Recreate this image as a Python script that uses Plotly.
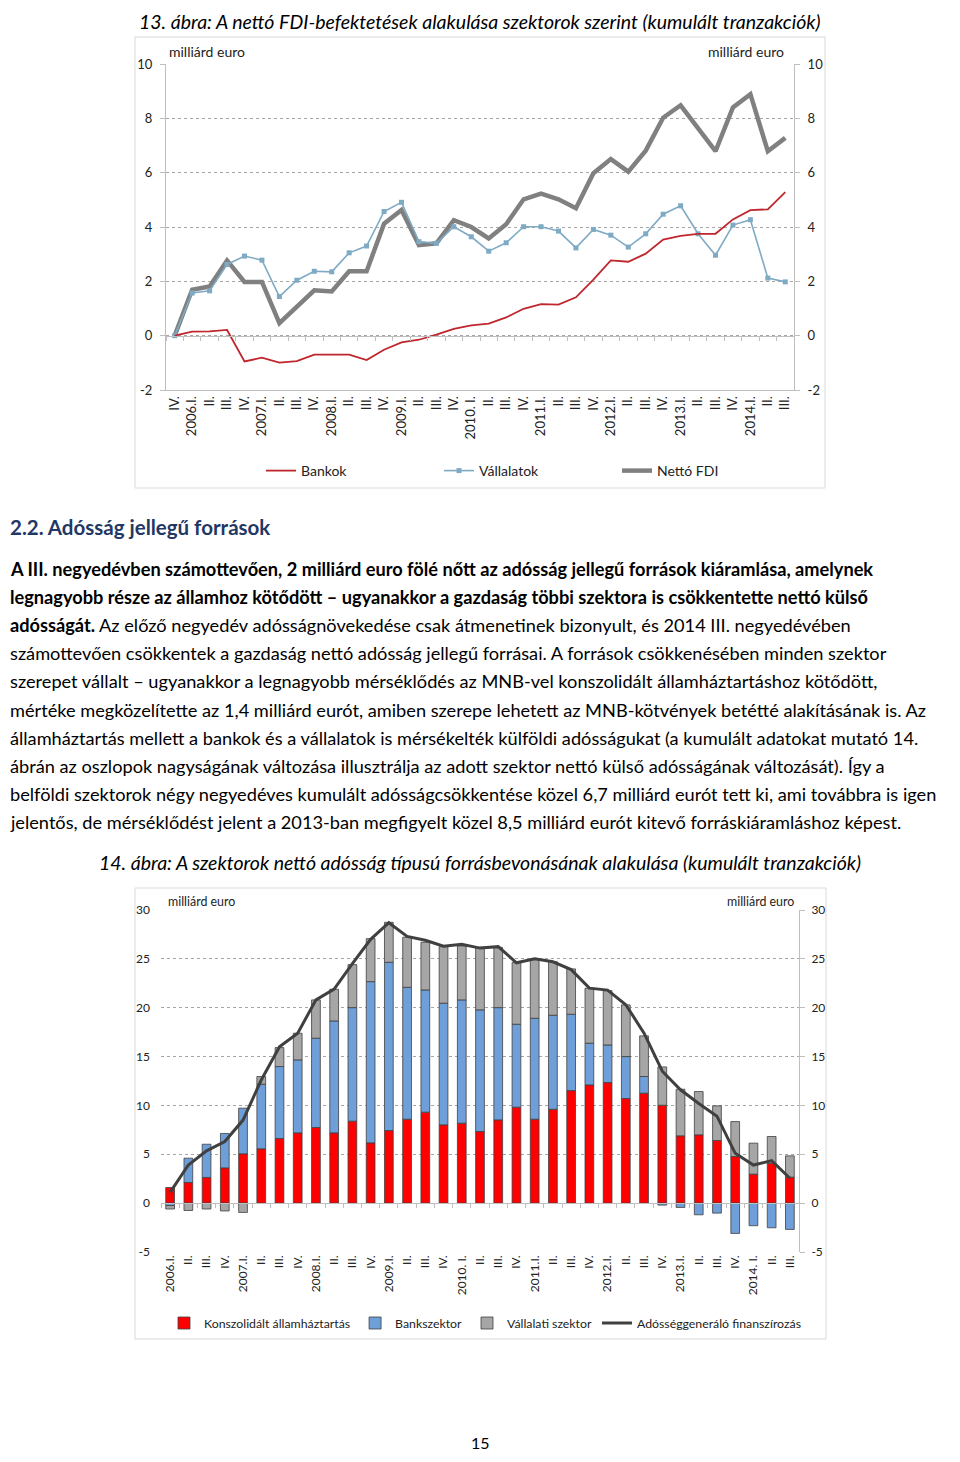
import plotly.graph_objects as go

# The page body has an 8px margin; the figure is sized so the page fits the 960x1462 window.
PAGE_W, PAGE_H = 960, 1462
OFF = 8
W, H = PAGE_W - 2 * OFF, PAGE_H - 2 * OFF

# ---------------- Figure 13 data ----------------
fdi_labels = ["IV.", "2006.I.", "II.", "III.", "IV.", "2007.I.", "II.", "III.", "IV.",
              "2008.I.", "II.", "III.", "IV.", "2009.I.", "II.", "III.", "IV.",
              "2010. I.", "II.", "III.", "IV.", "2011.I.", "II.", "III.", "IV.",
              "2012.I.", "II.", "III.", "IV.", "2013.I.", "II.", "III.", "IV.",
              "2014.I.", "II.", "III."]
bankok = [0, 0.15, 0.16, 0.21, -0.95, -0.81, -0.99, -0.94, -0.70, -0.70, -0.70, -0.90,
          -0.52, -0.25, -0.15, 0.04, 0.25, 0.38, 0.44, 0.67, 0.99, 1.16, 1.14, 1.41,
          2.06, 2.77, 2.72, 3.02, 3.54, 3.67, 3.75, 3.75, 4.28, 4.62, 4.65, 5.28]
vallalatok = [0, 1.57, 1.65, 2.62, 2.93, 2.78, 1.44, 2.04, 2.37, 2.35, 3.05, 3.30,
              4.57, 4.91, 3.46, 3.40, 4.01, 3.64, 3.11, 3.42, 4.01, 4.01, 3.85, 3.23,
              3.91, 3.70, 3.26, 3.75, 4.47, 4.78, 3.75, 2.96, 4.07, 4.27, 2.12, 1.98]
netto_fdi = [0, 1.69, 1.81, 2.77, 1.98, 1.98, 0.46, 1.07, 1.67, 1.63, 2.37, 2.37,
             4.12, 4.63, 3.33, 3.40, 4.25, 4.00, 3.58, 4.10, 5.02, 5.23, 5.02, 4.69,
             5.98, 6.50, 6.04, 6.81, 8.02, 8.48, 7.62, 6.79, 8.40, 8.89, 6.79, 7.28]
fdi_yticks = [-2, 0, 2, 4, 6, 8, 10]

# ---------------- Figure 14 data ----------------
debt_labels = ["2006.I.", "II.", "III.", "IV.", "2007.I.", "II.", "III.", "IV.",
               "2008.I.", "II.", "III.", "IV.", "2009.I.", "II.", "III.", "IV.",
               "2010. I.", "II.", "III.", "IV.", "2011.I.", "II.", "III.", "IV.",
               "2012.I.", "II.", "III.", "IV.", "2013.I.", "II.", "III.", "IV.",
               "2014. I.", "II.", "III."]
allamhaztartas = [1.60, 2.11, 2.63, 3.61, 5.05, 5.56, 6.61, 7.19, 7.74, 7.19, 8.39, 6.17,
                  7.43, 8.59, 9.31, 8.01, 8.18, 7.33, 8.52, 9.82, 8.59, 9.61, 11.52, 12.10,
                  12.34, 10.71, 11.25, 10.02, 6.89, 6.99, 6.41, 4.77, 2.97, 4.09, 2.66]
bankszektor = [-0.25, 2.49, 3.40, 3.52, 4.67, 6.61, 7.37, 7.47, 9.14, 11.46, 11.62, 16.50,
               17.22, 13.50, 12.51, 12.45, 12.62, 12.45, 11.49, 8.49, 10.33, 9.62, 7.81, 4.27,
               3.85, 4.29, 1.71, -0.20, -0.44, -1.19, -1.02, -3.10, -2.31, -2.52, -2.69]
vallalati = [-0.35, -0.75, -0.60, -0.80, -0.95, 0.79, 1.94, 2.73, 3.92, 3.24, 4.40, 4.40,
             4.09, 5.12, 4.88, 5.79, 5.52, 6.40, 6.17, 6.31, 6.04, 5.48, 4.64, 5.62,
             5.56, 5.29, 4.16, 3.92, 4.77, 4.43, 3.55, 3.58, 3.17, 2.73, 2.18]
adossag_gen = [1.1, 3.9, 5.35, 6.3, 8.5, 12.6, 16.0, 17.4, 20.8, 21.9, 24.5, 27.0,
               28.7, 27.3, 26.9, 26.3, 26.5, 26.1, 26.25, 24.6, 25.0, 24.7, 23.9, 22.0,
               21.8, 20.3, 17.4, 13.5, 11.6, 10.2, 8.9, 5.1, 3.9, 4.35, 2.55]
debt_yticks = [-5, 0, 5, 10, 15, 20, 25, 30]

FONT = "Lato"
AX = "#BFBFBF"
GRID = "#A6A6A6"


def px_x(p):
    """page pixel x -> paper fraction"""
    return (p - OFF) / W


def px_y(p):
    """page pixel y -> paper fraction"""
    return 1 - (p - OFF) / H


def zero_pos(rng, dom):
    return dom[0] + (0 - rng[0]) / (rng[1] - rng[0]) * (dom[1] - dom[0])


fig = go.Figure()

# ---- Figure 13 traces (split over overlaid axes so the right axis and zero-line ticks render)
x13 = list(range(len(fdi_labels)))
fig.add_trace(go.Scatter(x=x13, y=bankok, name="Bankok", mode="lines",
                         line=dict(color="#C0262D", width=1.8),
                         xaxis="x3", yaxis="y", legend="legend"))
fig.add_trace(go.Scatter(x=x13, y=vallalatok, name="Vállalatok", mode="lines+markers",
                         line=dict(color="#7EAAC4", width=1.6),
                         marker=dict(symbol="square", size=5, color="#7EAAC4"),
                         xaxis="x", yaxis="y2", legend="legend"))
fig.add_trace(go.Scatter(x=x13, y=netto_fdi, name="Nettó FDI", mode="lines",
                         line=dict(color="#808080", width=4.5),
                         xaxis="x", yaxis="y", legend="legend"))

# ---- Figure 14 traces
x14 = list(range(len(debt_labels)))
bar_line = dict(color="#404040", width=0.8)
fig.add_trace(go.Bar(x=x14, y=allamhaztartas, name="Konszolidált államháztartás",
                     marker=dict(color="#FF0000", line=bar_line),
                     xaxis="x2", yaxis="y3", legend="legend2"))
fig.add_trace(go.Bar(x=x14, y=bankszektor, name="Bankszektor",
                     marker=dict(color="#6F9FD8", line=bar_line),
                     xaxis="x2", yaxis="y3", legend="legend2"))
fig.add_trace(go.Bar(x=x14, y=vallalati, name="Vállalati szektor",
                     marker=dict(color="#A6A6A6", line=bar_line),
                     xaxis="x2", yaxis="y3", legend="legend2"))
fig.add_trace(go.Scatter(x=x14, y=adossag_gen, name="Adósséggeneráló finanszírozás",
                         mode="lines", line=dict(color="#404040", width=3),
                         xaxis="x4", yaxis="y4", legend="legend2"))

# ---- axes geometry (reference page pixels)
dom_x13 = [px_x(166), px_x(794)]
dom_y13 = [px_y(390), px_y(64)]
rng_y13 = [-2, 10]
rng_x13 = [-0.5, len(fdi_labels) - 0.5]

dom_x14 = [px_x(161), px_x(799)]
dom_y14 = [px_y(1252), px_y(910)]
rng_y14 = [-5, 30]
rng_x14 = [-0.5, len(debt_labels) - 0.5]

tickfont13 = dict(family=FONT, size=13, color="#222")
tickfont14 = dict(family=FONT, size=12, color="#222")
y13_ticks = dict(tickmode="array", tickvals=fdi_yticks, ticktext=[str(v) for v in fdi_yticks])
y14_ticks = dict(tickmode="array", tickvals=debt_yticks, ticktext=[str(v) for v in debt_yticks])

fig.update_layout(
    width=W, height=H, margin=dict(l=0, r=0, t=0, b=0, autoexpand=False),
    paper_bgcolor="white", plot_bgcolor="white",
    barmode="relative", bargap=0.52,
    font=dict(family=FONT, color="#000"),
    xaxis=dict(domain=dom_x13, anchor="y", range=rng_x13, tickmode="array",
               tickvals=x13, ticktext=fdi_labels, tickangle=-90, tickfont=tickfont13,
               showgrid=False, zeroline=False, showline=True, linecolor=AX, ticks="",
               automargin=False),
    xaxis3=dict(overlaying="x", anchor="free", position=zero_pos(rng_y13, dom_y13),
                range=rng_x13, tickmode="array",
                tickvals=[i - 0.5 for i in range(len(fdi_labels) + 1)],
                showticklabels=False, ticks="outside", ticklen=4, tickcolor=AX,
                showgrid=False, zeroline=False, showline=True, linecolor=AX,
                automargin=False),
    yaxis=dict(domain=dom_y13, anchor="x", range=rng_y13, **y13_ticks,
               showgrid=True, gridcolor=GRID, griddash="dot", zeroline=False,
               showline=True, linecolor=AX, ticks="outside", ticklen=5, tickcolor=AX,
               ticklabelstandoff=5, tickfont=tickfont13, automargin=False),
    yaxis2=dict(overlaying="y", anchor="x", side="right", range=rng_y13, **y13_ticks,
                showgrid=False, zeroline=False, showline=True, linecolor=AX,
                ticks="outside", ticklen=5, tickcolor=AX, ticklabelstandoff=5,
                tickfont=tickfont13, automargin=False),
    xaxis2=dict(domain=dom_x14, anchor="y3", range=rng_x14, tickmode="array",
                tickvals=x14, ticktext=debt_labels, tickangle=-90, tickfont=tickfont14,
                showgrid=False, zeroline=False, showline=False, ticks="",
                automargin=False),
    xaxis4=dict(overlaying="x2", anchor="free", position=zero_pos(rng_y14, dom_y14),
                range=rng_x14, tickmode="array",
                tickvals=[i - 0.5 for i in range(len(debt_labels) + 1)],
                showticklabels=False, ticks="outside", ticklen=4, tickcolor=AX,
                showgrid=False, zeroline=False, showline=True, linecolor=AX,
                automargin=False),
    yaxis3=dict(domain=dom_y14, anchor="x2", range=rng_y14, **y14_ticks,
                showgrid=True, gridcolor=GRID, griddash="dot", zeroline=False,
                showline=False, ticks="", ticklabelstandoff=10, tickfont=tickfont14,
                automargin=False),
    yaxis4=dict(overlaying="y3", anchor="x2", side="right", range=rng_y14, **y14_ticks,
                showgrid=False, zeroline=False, showline=True, linecolor=AX,
                ticks="outside", ticklen=5, tickcolor=AX, ticklabelstandoff=4,
                tickfont=tickfont14, automargin=False),
    legend=dict(orientation="h", x=px_x(261), y=px_y(471), xanchor="left", yanchor="middle",
                font=dict(family=FONT, size=14, color="#222"), entrywidth=133,
                bgcolor="rgba(0,0,0,0)", traceorder="normal"),
    legend2=dict(orientation="h", x=px_x(164), y=px_y(1323), xanchor="left", yanchor="middle",
                 font=dict(family=FONT, size=12.3, color="#222"),
                 bgcolor="rgba(0,0,0,0)", traceorder="normal"),
)

# ---- chart frames
fig.add_shape(type="rect", xref="paper", yref="paper", x0=px_x(135), x1=px_x(825),
              y0=px_y(488), y1=px_y(37), line=dict(color="#D9D9D9", width=1), layer="below")
fig.add_shape(type="rect", xref="paper", yref="paper", x0=px_x(135), x1=px_x(826),
              y0=px_y(1339), y1=px_y(888), line=dict(color="#D9D9D9", width=1), layer="below")


def ann(text, x, y, size, xanchor="left", color="#000", yanchor="middle"):
    fig.add_annotation(text=text, x=px_x(x), y=px_y(y), xref="paper", yref="paper",
                       xanchor=xanchor, yanchor=yanchor, showarrow=False,
                       font=dict(family=FONT, size=size, color=color))


# titles
ann("<i>13. ábra: A nettó FDI-befektetések alakulása szektorok szerint (kumulált tranzakciók)</i>",
    480, OFF, 19.5, xanchor="center", yanchor="top")
ann("<i>14. ábra: A szektorok nettó adósság típusú forrásbevonásának alakulása (kumulált tranzakciók)</i>",
    480, 862, 19.5, xanchor="center")

# unit labels
ann("milliárd euro", 167, 51, 14, color="#222")
ann("milliárd euro", 786, 51, 14, xanchor="right", color="#222")
ann("milliárd euro", 166, 901, 12.4, color="#222")
ann("milliárd euro", 796, 901, 12.4, xanchor="right", color="#222")

# heading and body text
ann("<b>2.2. Adósság jellegű források</b>", 8, 527, 20.5, color="#1F3864")
body = [
    "<b>A III. negyedévben számottevően, 2 milliárd euro fölé nőtt az adósság jellegű források kiáramlása, amelynek</b>",
    "<b>legnagyobb része az államhoz kötődött – ugyanakkor a gazdaság többi szektora is csökkentette nettó külső</b>",
    "<b>adósságát.</b> Az előző negyedév adósságnövekedése csak átmenetinek bizonyult, és 2014 III. negyedévében",
    "számottevően csökkentek a gazdaság nettó adósság jellegű forrásai. A források csökkenésében minden szektor",
    "szerepet vállalt – ugyanakkor a legnagyobb mérséklődés az MNB-vel konszolidált államháztartáshoz kötődött,",
    "mértéke megközelítette az 1,4 milliárd eurót, amiben szerepe lehetett az MNB-kötvények betétté alakításának is. Az",
    "államháztartás mellett a bankok és a vállalatok is mérsékelték külföldi adósságukat (a kumulált adatokat mutató 14.",
    "ábrán az oszlopok nagyságának változása illusztrálja az adott szektor nettó külső adósságának változását). Így a",
    "belföldi szektorok négy negyedéves kumulált adósságcsökkentése közel 6,7 milliárd eurót tett ki, ami továbbra is igen",
    "jelentős, de mérséklődést jelent a 2013-ban megfigyelt közel 8,5 milliárd eurót kitevő forráskiáramláshoz képest.",
]
for k, line in enumerate(body):
    ann(line, 8, 569 + 28.1 * k, 18.2)

# page number
ann("15", 480, PAGE_H - OFF, 16, xanchor="center", yanchor="bottom")

fig.write_html("out.html")
